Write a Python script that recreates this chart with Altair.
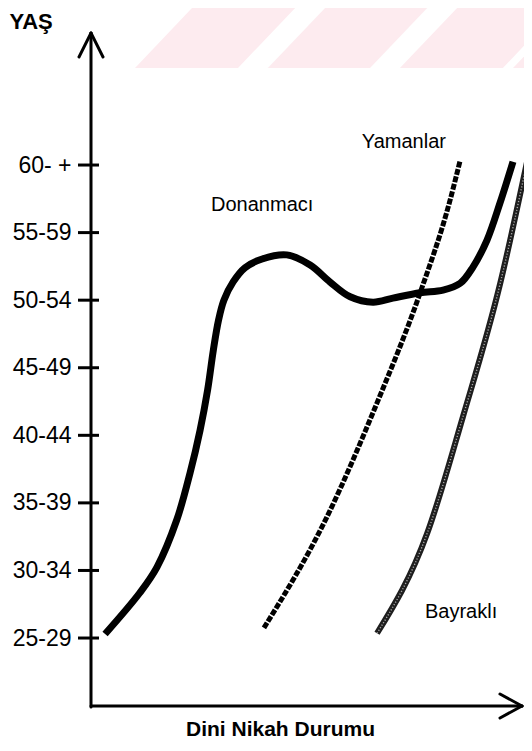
import altair as alt
import pandas as pd

# ---- data ----
AGE_LABELS = ["25-29", "30-34", "35-39", "40-44", "45-49", "50-54", "55-59", "60- +"]
AGE_POS = [0, 1, 2, 3, 4, 5, 6, 7]

DON_X = [3.2, 11.1, 15.0, 19.5, 22.5, 24.8, 26.5, 27.8, 29.0, 30.2, 32.3, 35.0, 38.9, 44.5,
         49.8, 54.3, 58.9, 64.1, 68.6, 74.8, 80.0, 83.9, 86.8, 90.0, 92.95, 95.9]
DON_Y = [0.06, 0.67, 1.05, 1.75, 2.44, 3.08, 3.67, 4.26, 4.71, 5.00, 5.27, 5.48, 5.61, 5.67,
         5.52, 5.27, 5.05, 4.97, 5.03, 5.11, 5.15, 5.25, 5.49, 5.89, 6.44, 7.05]

YAM_X = [39.3, 53.6, 65.0, 74.8, 81.6, 83.9]
YAM_Y = [0.15, 1.79, 3.48, 5.11, 6.48, 7.07]

BAY_X = [65.0, 76.4, 84.5, 93.0, 99.1]
BAY_Y = [0.07, 1.55, 3.27, 5.25, 7.05]

LABEL_TEXT = ["Yamanlar", "Donanmacı", "Bayraklı"]
LABEL_X = [71.1, 38.9, 84.1]
LABEL_Y = [7.34, 6.41, 0.38]

# faint watermark stripes (top band)
WM_ID = [1, 1, 2, 2, 3, 3, 4, 4]
WM_Y = [8.436, 9.324, 8.436, 9.324, 8.436, 9.324, 8.436, 9.324]
WM_X1 = [10.0, 22.95, 40.2, 53.2, 70.2, 83.2, 95.9, 108.9]
WM_X2 = [33.4, 46.4, 63.4, 76.4, 93.6, 106.6, 119.0, 132.0]

Y_SCALE = alt.Scale(domain=[-1.006, 9.324], nice=False, zero=False)
X_SCALE = alt.Scale(domain=[0, 98.4], nice=False, zero=False)
FONT = "Liberation Sans"

label_expr = "[" + ",".join("'" + s + "'" for s in AGE_LABELS) + "][datum.value]"

X_AXIS = alt.Axis(
    title="Dini Nikah Durumu", labels=False, ticks=False, domain=False, grid=False,
    titleFont=FONT, titleFontSize=21, titleFontWeight="bold", titleColor="black",
    titleX=189, titleY=23, titleAlign="center", titleBaseline="middle")
Y_AXIS = alt.Axis(
    values=AGE_POS, labelExpr=label_expr, ticks=False, domain=False, grid=False,
    labelFont=FONT, labelFontSize=23, labelColor="black", labelPadding=20,
    title="YAŞ", titleFont=FONT, titleFontSize=22, titleFontWeight="bold",
    titleColor="black", titleAngle=0, titleX=-82, titleY=3,
    titleAlign="left", titleBaseline="top")


def X(f):
    return alt.X(f, scale=X_SCALE, axis=X_AXIS)


def Y(f):
    return alt.Y(f, scale=Y_SCALE, axis=Y_AXIS)


don = pd.DataFrame({"x": DON_X, "y": DON_Y})
yam = pd.DataFrame({"x": YAM_X, "y": YAM_Y})
bay = pd.DataFrame({"x": BAY_X, "y": BAY_Y})
labels = pd.DataFrame({"x": LABEL_X, "y": LABEL_Y, "t": LABEL_TEXT})
ticks = pd.DataFrame({"pos": AGE_POS})
wm = pd.DataFrame({"id": WM_ID, "y": WM_Y, "x1": WM_X1, "x2": WM_X2})
one = pd.DataFrame({"a": [0]})

watermark = alt.Chart(wm).mark_area(orient="horizontal", color="#fdebef", clip=True).encode(
    y=Y("y:Q"), x=X("x1:Q"), x2="x2:Q", detail="id:N",
)

don_line = alt.Chart(don).mark_line(
    color="black", strokeWidth=7, interpolate="catmull-rom", strokeCap="butt"
).encode(x=X("x:Q"), y=Y("y:Q"))

yam_base = alt.Chart(yam).mark_line(
    color="black", strokeWidth=5, interpolate="monotone", strokeDash=[6, 1.6]
).encode(x=X("x:Q"), y=Y("y:Q"))

bay_base = alt.Chart(bay).mark_line(
    color="#1e1e1e", strokeWidth=6, interpolate="monotone"
).encode(x=X("x:Q"), y=Y("y:Q"))
bay_dots = alt.Chart(bay).mark_line(
    color="#a8a8a8", strokeWidth=1.4, interpolate="monotone", strokeDash=[1.2, 1.8]
).encode(x=X("x:Q"), y=Y("y:Q"))

text = alt.Chart(labels).mark_text(
    font=FONT, fontSize=20, color="black", align="center", baseline="middle"
).encode(x=X("x:Q"), y=Y("y:Q"), text="t:N")

tick_marks = alt.Chart(ticks).mark_rule(color="black", strokeWidth=3).encode(
    y=Y("pos:Q"), x=alt.value(-13), x2=alt.value(8)
)

AX = dict(color="black", strokeWidth=3, strokeCap="round")
y_axis = alt.Chart(one).mark_rule(**AX).encode(x=alt.value(0), y=alt.value(25), y2=alt.value(699))
y_arr1 = alt.Chart(one).mark_rule(**AX).encode(x=alt.value(-12), y=alt.value(49), x2=alt.value(0), y2=alt.value(25))
y_arr2 = alt.Chart(one).mark_rule(**AX).encode(x=alt.value(12), y=alt.value(49), x2=alt.value(0), y2=alt.value(25))
x_axis = alt.Chart(one).mark_rule(**AX).encode(x=alt.value(0), x2=alt.value(431), y=alt.value(698))
x_arr1 = alt.Chart(one).mark_rule(**AX).encode(x=alt.value(409), y=alt.value(686), x2=alt.value(431), y2=alt.value(698))
x_arr2 = alt.Chart(one).mark_rule(**AX).encode(x=alt.value(409), y=alt.value(710), x2=alt.value(431), y2=alt.value(698))

chart = alt.layer(
    watermark, don_line, yam_base, bay_base, bay_dots, text, tick_marks,
    y_axis, y_arr1, y_arr2, x_axis, x_arr1, x_arr2,
).properties(
    width=433, height=698,
    padding={"left": 83, "top": 0, "right": 0, "bottom": 37},
    autosize=alt.AutoSizeParams(type="none"),
).configure_view(stroke=None).configure_axis(grid=False)

chart.save("out.html", embed_options={"renderer": "svg", "actions": False})
